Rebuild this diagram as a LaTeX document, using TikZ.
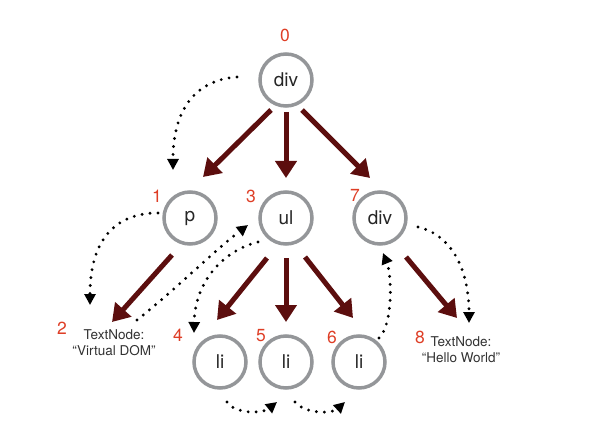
\documentclass[tikz,border=0pt]{standalone}
\usepackage{fontspec}
\setmainfont{TeX Gyre Heros}
\usetikzlibrary{arrows.meta,calc}
\definecolor{ringgray}{RGB}{148,150,153}
\definecolor{maroon}{RGB}{92,14,14}
\definecolor{numred}{RGB}{222,62,38}
\definecolor{txtgray}{RGB}{50,50,50}
\tikzset{
  elem/.style={circle,draw=ringgray,line width=3.5pt,minimum size=52pt,inner sep=0pt,font=\fontsize{19}{22}\selectfont,text=black!85},
  idx/.style={text=numred,font=\fontsize{17.5}{20}\selectfont,inner sep=0pt},
  txtnode/.style={text=txtgray,font=\fontsize{13.5}{16}\selectfont,align=center,inner sep=0pt},
  tree/.style={draw=maroon,line width=5pt,-{Triangle[length=17pt,width=21pt]},fill=maroon},
  walk/.style={draw=black,line width=3.2pt,line cap=round,dash pattern=on 0pt off 8pt,-{Triangle[length=11pt,width=11pt,line cap=butt]}}
}
\begin{document}
\begin{tikzpicture}[x=1pt,y=-1pt]
\useasboundingbox (0,0) rectangle (597,425);
% element nodes
\node[elem] (n0) at (286,80) {div};
\node[elem] (n1) at (190,218) {p};
\node[elem] (n3) at (286,218) {ul};
\node[elem] (n7) at (380,218) {div};
\node[elem] (n4) at (220,362) {li};
\node[elem] (n5) at (286,362) {li};
\node[elem] (n6) at (359,362) {li};
\node[txtnode] (n2) at (114,343) {TextNode:\\“Virtual DOM”};
\node[txtnode] (n8) at (461,350) {TextNode:\\“Hello World”};
% index labels
\node[idx] (l0) at (285,35) {0};
\node[idx] (l1) at (157,196) {1};
\node[idx] (l3) at (251,196) {3};
\node[idx] (l7) at (355,195) {7};
\node[idx] (l2) at (62,328) {2};
\node[idx] (l4) at (178,335) {4};
\node[idx] (l5) at (261,336) {5};
\node[idx] (l6) at (332,337) {6};
\node[idx] (l8) at (420,337) {8};
% tree edges
\draw[tree] ($(n0)+(-15,30)$) -- ($(n1)+(13,-41)$);
\draw[tree] ($(n0)+(0,32)$) -- ($(n3)+(0,-40)$);
\draw[tree] ($(n0)+(16,30)$) -- ($(n7)+(-10,-40)$);
\draw[tree] ($(n1)+(-18,37)$) -- ($(n2)+(-2,-21)$);
\draw[tree] ($(n3)+(-19,40)$) -- ($(n4)+(-3,-42)$);
\draw[tree] ($(n3)+(0,40)$) -- ($(n5)+(0,-40)$);
\draw[tree] ($(n3)+(19,39)$) -- ($(n6)+(-6,-44)$);
\draw[tree] ($(n7)+(26,39)$) -- ($(n8)+(-4,-32)$);
% traversal order
\draw[walk] ($(n0)+(-49,-3)$) .. controls (195,80) and (173,110) .. ($(n1)+(-17,-48)$);
\draw[walk] ($(n1)+(-32,-5)$) .. controls (115,213) and (90,240) .. ($(n2)+(-24,-38)$);
\draw[walk] ($(n2)+(23,-23)$) .. controls (175,290) and (215,250) .. ($(n3)+(-38,7)$);
\draw[walk] ($(n3)+(-28,24)$) .. controls (225,250) and (195,280) .. ($(n4)+(-26,-29)$);
\draw[walk] ($(n4)+(7,40)$) .. controls (235,414) and (262,414) .. ($(n5)+(-9,40)$);
\draw[walk] ($(n5)+(9,40)$) .. controls (305,414) and (332,414) .. ($(n6)+(-14,40)$);
\draw[walk] ($(n6)+(20,-24)$) .. controls (393,325) and (392,275) .. ($(n7)+(3,35)$);
\draw[walk] ($(n7)+(38,9)$) .. controls (452,235) and (469,270) .. ($(n8)+(8,-27)$);
\end{tikzpicture}
\end{document}
